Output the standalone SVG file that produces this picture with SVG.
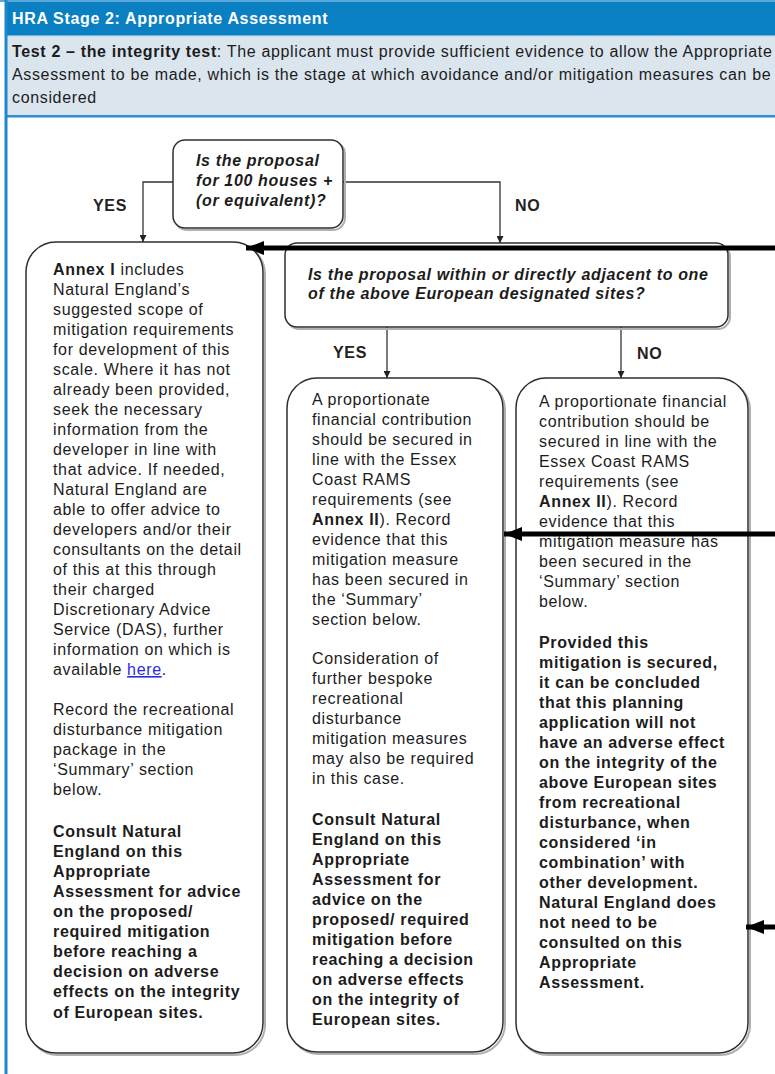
<svg xmlns="http://www.w3.org/2000/svg" width="775" height="1074" viewBox="0 0 775 1074">
<style>
text{font-family:"Liberation Sans",Arial,sans-serif;font-size:16px;letter-spacing:0.65px;fill:#1c1c1c}
.b{font-weight:bold}
.q{font-weight:bold;font-style:italic}
.hdr{font-weight:bold;fill:#ffffff}
.lbl{font-weight:bold;fill:#222}
.box{fill:#ffffff;stroke:#2e2e2e;stroke-width:1.5}
.shd{fill:none;stroke:#b0b0b0;stroke-width:2}
.thin{fill:none;stroke:#333;stroke-width:1.3}
.thick{fill:none;stroke:#000;stroke-width:5}
.lnk{fill:#2a2ae6;text-decoration:underline}
</style>
<defs>
<marker id="sm" viewBox="0 0 10 10" refX="10" refY="5" markerWidth="7" markerHeight="7" markerUnits="userSpaceOnUse" orient="auto">
<path d="M0,0 L10,5 L0,10 z" fill="#222"/>
</marker>
<marker id="big" viewBox="0 0 10 10" refX="10" refY="5" markerWidth="18" markerHeight="14" markerUnits="userSpaceOnUse" orient="auto" preserveAspectRatio="none">
<path d="M0,0 L10,5 L0,10 z" fill="#000"/>
</marker>
</defs>
<rect x="0" y="0" width="775" height="1074" fill="#ffffff"/>
<g id="frame">
<rect x="0" y="0" width="775" height="2" fill="#5aa9dc"/>
<rect x="7" y="2" width="768" height="33" fill="#0a80c2"/>
<rect x="7" y="35" width="768" height="1.5" fill="#6fb4e0"/>
<rect x="7" y="36.5" width="768" height="78.5" fill="#dbe5ee"/>
<rect x="7" y="115" width="768" height="2.5" fill="#2a8fd0"/>
<rect x="4.5" y="0" width="3" height="1074" fill="#1c87cc"/>
<text x="12" y="24" class="hdr">HRA Stage 2: Appropriate Assessment</text>
<text x="12" y="57"><tspan class="b">Test 2 – the integrity test</tspan>: The applicant must provide sufficient evidence to allow the Appropriate</text>
<text x="12" y="80">Assessment to be made, which is the stage at which avoidance and/or mitigation measures can be</text>
<text x="12" y="103">considered</text>
</g>
<g id="connectors">
<path class="thin" d="M173,182 H143 V242" marker-end="url(#sm)"/>
<path class="thin" d="M343,182 H500 V243" marker-end="url(#sm)"/>
<path class="thin" d="M387,327 V378" marker-end="url(#sm)"/>
<path class="thin" d="M621,327 V378" marker-end="url(#sm)"/>
<text x="93" y="211" class="lbl">YES</text>
<text x="515" y="211" class="lbl">NO</text>
<text x="333" y="358" class="lbl">YES</text>
<text x="637" y="359" class="lbl">NO</text>
</g>
<g id="q1">
<rect class="shd" x="175" y="142" width="170" height="88" rx="12"/>
<rect class="box" x="173" y="140" width="170" height="88" rx="12"/>
<text class="q" x="196" y="166">Is the proposal</text>
<text class="q" x="196" y="186">for 100 houses +</text>
<text class="q" x="196" y="206">(or equivalent)?</text>
</g>
<g id="q2">
<rect class="shd" x="287" y="245" width="443" height="84" rx="12"/>
<rect class="box" x="285" y="243" width="443" height="84" rx="12"/>
<text class="q" x="308" y="280">Is the proposal within or directly adjacent to one</text>
<text class="q" x="308" y="299">of the above European designated sites?</text>
</g>
<g id="annex1">
<rect class="shd" x="28" y="244" width="237" height="811" rx="30"/>
<rect class="box" x="26" y="242" width="237" height="811" rx="30"/>
<text x="53" y="275"><tspan class="b">Annex I</tspan> includes</text>
<text x="53" y="295">Natural England’s</text>
<text x="53" y="315">suggested scope of</text>
<text x="53" y="335">mitigation requirements</text>
<text x="53" y="355">for development of this</text>
<text x="53" y="375">scale. Where it has not</text>
<text x="53" y="395">already been provided,</text>
<text x="53" y="415">seek the necessary</text>
<text x="53" y="435">information from the</text>
<text x="53" y="455">developer in line with</text>
<text x="53" y="475">that advice. If needed,</text>
<text x="53" y="495">Natural England are</text>
<text x="53" y="515">able to offer advice to</text>
<text x="53" y="535">developers and/or their</text>
<text x="53" y="555">consultants on the detail</text>
<text x="53" y="575">of this at this through</text>
<text x="53" y="595">their charged</text>
<text x="53" y="615">Discretionary Advice</text>
<text x="53" y="635">Service (DAS), further</text>
<text x="53" y="655">information on which is</text>
<text x="53" y="675">available <tspan class="lnk">here</tspan>.</text>
<text x="53" y="715">Record the recreational</text>
<text x="53" y="735">disturbance mitigation</text>
<text x="53" y="755">package in the</text>
<text x="53" y="775">‘Summary’ section</text>
<text x="53" y="795">below.</text>
<text class="b" x="53" y="837">Consult Natural</text>
<text class="b" x="53" y="857">England on this</text>
<text class="b" x="53" y="877">Appropriate</text>
<text class="b" x="53" y="897">Assessment for advice</text>
<text class="b" x="53" y="917">on the proposed/</text>
<text class="b" x="53" y="937">required mitigation</text>
<text class="b" x="53" y="957">before reaching a</text>
<text class="b" x="53" y="977">decision on adverse</text>
<text class="b" x="53" y="997">effects on the integrity</text>
<text class="b" x="53" y="1018">of European sites.</text>
</g>
<g id="adjacent-yes">
<rect class="shd" x="289" y="380" width="216" height="674" rx="30"/>
<rect class="box" x="287" y="378" width="216" height="674" rx="30"/>
<text x="312" y="405">A proportionate</text>
<text x="312" y="425">financial contribution</text>
<text x="312" y="445">should be secured in</text>
<text x="312" y="465">line with the Essex</text>
<text x="312" y="485">Coast RAMS</text>
<text x="312" y="505">requirements (see</text>
<text x="312" y="525"><tspan class="b">Annex II</tspan>). Record</text>
<text x="312" y="545">evidence that this</text>
<text x="312" y="565">mitigation measure</text>
<text x="312" y="585">has been secured in</text>
<text x="312" y="605">the ‘Summary’</text>
<text x="312" y="625">section below.</text>
<text x="312" y="664">Consideration of</text>
<text x="312" y="684">further bespoke</text>
<text x="312" y="704">recreational</text>
<text x="312" y="724">disturbance</text>
<text x="312" y="744">mitigation measures</text>
<text x="312" y="764">may also be required</text>
<text x="312" y="784">in this case.</text>
<text class="b" x="312" y="825">Consult Natural</text>
<text class="b" x="312" y="845">England on this</text>
<text class="b" x="312" y="865">Appropriate</text>
<text class="b" x="312" y="885">Assessment for</text>
<text class="b" x="312" y="905">advice on the</text>
<text class="b" x="312" y="925">proposed/ required</text>
<text class="b" x="312" y="945">mitigation before</text>
<text class="b" x="312" y="965">reaching a decision</text>
<text class="b" x="312" y="985">on adverse effects</text>
<text class="b" x="312" y="1005">on the integrity of</text>
<text class="b" x="312" y="1025">European sites.</text>
</g>
<g id="adjacent-no">
<rect class="shd" x="518" y="380" width="232" height="675" rx="30"/>
<rect class="box" x="516" y="378" width="232" height="675" rx="30"/>
<text x="539" y="407">A proportionate financial</text>
<text x="539" y="427">contribution should be</text>
<text x="539" y="447">secured in line with the</text>
<text x="539" y="467">Essex Coast RAMS</text>
<text x="539" y="487">requirements (see</text>
<text x="539" y="507"><tspan class="b">Annex II</tspan>). Record</text>
<text x="539" y="527">evidence that this</text>
<text x="539" y="547">mitigation measure has</text>
<text x="539" y="567">been secured in the</text>
<text x="539" y="587">‘Summary’ section</text>
<text x="539" y="607">below.</text>
<text class="b" x="539" y="648">Provided this</text>
<text class="b" x="539" y="668">mitigation is secured,</text>
<text class="b" x="539" y="688">it can be concluded</text>
<text class="b" x="539" y="708">that this planning</text>
<text class="b" x="539" y="728">application will not</text>
<text class="b" x="539" y="748">have an adverse effect</text>
<text class="b" x="539" y="768">on the integrity of the</text>
<text class="b" x="539" y="788">above European sites</text>
<text class="b" x="539" y="808">from recreational</text>
<text class="b" x="539" y="828">disturbance, when</text>
<text class="b" x="539" y="848">considered ‘in</text>
<text class="b" x="539" y="868">combination’ with</text>
<text class="b" x="539" y="888">other development.</text>
<text class="b" x="539" y="908">Natural England does</text>
<text class="b" x="539" y="928">not need to be</text>
<text class="b" x="539" y="948">consulted on this</text>
<text class="b" x="539" y="968">Appropriate</text>
<text class="b" x="539" y="988">Assessment.</text>
</g>
<g id="callout-arrows">
<path class="thick" d="M775,248 H246" marker-end="url(#big)"/>
<path class="thick" d="M775,534 H504" marker-end="url(#big)"/>
<path class="thick" d="M775,927 H746" marker-end="url(#big)"/>
</g>
</svg>
